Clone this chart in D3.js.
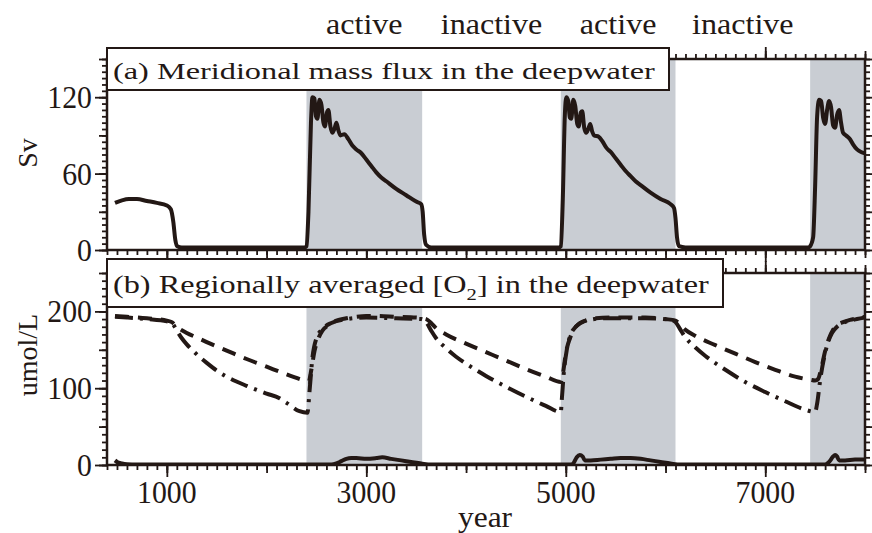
<!DOCTYPE html>
<meta charset="utf-8">
<html>
<head>
<title>Deepwater mass flux and O2</title>
<style>
  body { margin: 0; background: #fff; }
  text { font-family: "Liberation Serif", "Times New Roman", serif; fill: #231815; }
  .frame { fill: none; stroke: #231815; stroke-width: 2.5px; }
  .tick line { stroke: #231815; stroke-width: 1.8px; }
  .shade { fill: #c9cdd3; }
  .series { fill: none; stroke: #231815; stroke-width: 4px; }
  .titlebox { fill: #fff; stroke: #231815; stroke-width: 2px; }
</style>
<script src="https://cdn.jsdelivr.net/npm/d3@7"></script>
</head>
<body>
<div id="chart"></div>
<script>
// phase boundaries (year): active, inactive, active, inactive, active
var phaseBounds = [2400, 3560, 4950, 6100, 7450];
var phaseLabels = ["active", "inactive", "active", "inactive"];

// (a) meridional mass flux in the deepwater, Sv
var fluxYears = [480, 550, 620, 700, 800, 900, 1000, 1040, 1065, 1085, 1105, 1150, 1500, 2000, 2380,
  2400, 2420, 2445, 2460, 2480, 2495, 2510, 2530, 2550, 2570, 2585, 2605, 2620, 2640, 2660, 2680, 2700, 2720, 2740,
  2780, 2820, 2860, 2900, 2950, 3000, 3050, 3100, 3150, 3200, 3300, 3400, 3500, 3550, 3565, 3580, 3600, 3650,
  4000, 4500, 4930,
  4950, 4970, 4990, 5005, 5025, 5040, 5055, 5075, 5095, 5115, 5130, 5150, 5165, 5185, 5205, 5225, 5245, 5265, 5285,
  5330, 5370, 5410, 5450, 5500, 5550, 5600, 5650, 5700, 5750, 5850, 5950, 6050, 6085, 6100, 6115, 6135, 6200,
  6600, 7000, 7430,
  7450, 7480, 7500, 7520, 7540, 7560, 7580, 7600, 7620, 7640, 7660, 7680, 7700, 7720, 7740, 7760, 7780,
  7810, 7850, 7880, 7920, 7960, 8000];
var fluxValues = [37, 39, 40, 40, 38.5, 37, 35, 32, 22, 8, 3, 2, 2, 2, 2,
  3, 30, 100, 120, 119, 105, 103, 118, 114, 100, 97, 108, 110, 97, 92, 95, 100, 94, 90,
  91, 87, 82, 79, 76, 71, 66, 61, 57, 54, 48, 43, 38, 36, 30, 12, 4, 2,
  2, 2, 2,
  3, 40, 105, 120, 117, 104, 103, 118, 113, 99, 97, 108, 109, 96, 92, 95, 99, 93, 90,
  89, 85, 80, 77, 72, 67, 62, 58, 54, 51, 45, 40, 36, 33, 25, 10, 3, 2,
  2, 2, 2,
  3, 10, 50, 105, 118, 117, 104, 99, 110, 117, 112, 98, 96, 106, 110, 100, 92,
  90, 87, 83, 79, 77, 76];

// (b) regionally averaged [O2] in the deepwater, umol/L
var o2DashYears = [480, 600, 800, 1000, 1050, 1100, 1200, 1300, 1400, 1600, 1800, 2000, 2200, 2350, 2420,
  2450, 2480, 2520, 2560, 2620, 2700, 2800, 2900, 3000, 3100, 3300, 3500, 3600, 3650, 3700, 3800,
  4000, 4200, 4400, 4600, 4800, 4950, 4970, 5000, 5050, 5100, 5200, 5300, 5500, 5800, 6000, 6100,
  6150, 6200, 6300, 6500, 6700, 6900, 7100, 7300, 7450, 7500, 7530, 7560, 7600, 7640, 7680, 7720,
  7780, 7850, 7920, 8000];
var o2DashValues = [194, 193, 191, 188, 186, 180, 172, 166, 160, 149, 138, 128, 118, 111, 108,
  125, 148, 165, 175, 182, 188, 191, 193, 194, 194, 193, 192, 190, 185, 178, 170,
  158, 147, 136, 125, 115, 108, 118, 145, 168, 180, 188, 191, 192, 192, 190, 188,
  182, 176, 168, 156, 145, 134, 124, 115, 111, 110, 112, 125, 148, 165, 176, 182,
  186, 189, 191, 193];

var o2DotYears = [480, 600, 800, 1000, 1050, 1100, 1150, 1200, 1300, 1400, 1500, 1600, 1800, 2000, 2130, 2200,
  2330, 2410, 2430, 2460, 2500, 2560, 2650, 2800, 3000, 3300, 3550, 3600, 3650, 3700, 3800, 3900,
  4000, 4200, 4400, 4600, 4800, 4950, 4960, 4980, 5010, 5050, 5100, 5200, 5400, 5800, 6050, 6100,
  6150, 6200, 6300, 6400, 6600, 6800, 7000, 7200, 7400, 7500, 7520, 7550, 7590, 7630, 7670, 7720,
  7780, 7850, 7920, 8000];
var o2DotValues = [193, 192, 190, 187, 185, 175, 165, 157, 144, 133, 123, 115, 103, 93, 87, 81,
  70, 68, 95, 140, 165, 177, 185, 190, 192, 191, 190, 186, 175, 165, 152, 141,
  132, 116, 102, 89, 77, 69, 85, 120, 150, 170, 180, 188, 191, 191, 189, 186,
  176, 166, 153, 142, 124, 108, 95, 83, 72, 69, 80, 110, 140, 160, 172, 180,
  185, 188, 190, 192];

var o2SolidYears = [480, 500, 550, 600, 700, 2650, 2700, 2750, 2800, 2850, 2900, 3000, 3100, 3160, 3250,
  3350, 3450, 3550, 3650, 5050, 5080, 5110, 5140, 5170, 5190, 5250, 5350, 5450, 5550, 5650, 5750,
  5850, 5950, 6050, 6150, 7600, 7640, 7680, 7700, 7720, 7740, 7800, 7900, 8000];
var o2SolidValues = [6, 4, 2, 1, 0.5, 0.5, 2, 5, 8, 9, 9, 8, 9, 10, 8,
  6, 4, 2, 0.5, 0.5, 3, 10, 13, 11, 6, 6, 7, 8, 9, 9, 8,
  6, 4, 2, 0.5, 0.5, 4, 11, 13, 11, 6, 6, 7, 7];

// tick values
var fluxLabelTicks = [0, 60, 120];
var o2LabelTicks = [0, 100, 200];
var yearLabelTicks = [1000, 3000, 5000, 7000];

var W = 872, H = 533;
var ink = "#231815";

var x = d3.scaleLinear().domain([400, 8000]).range([107, 865]);
var ya = d3.scaleLinear().domain([0, 150]).range([250, 59]);
var yb = d3.scaleLinear().domain([0, 250]).range([465, 273]);

var svg = d3.select("#chart").append("svg")
  .attr("width", W)
  .attr("height", H);

function zip(xs, ys) { return xs.map(function (d, i) { return [d, ys[i]]; }); }

// grey shading for the active periods
var actives = [[phaseBounds[0], phaseBounds[1]], [phaseBounds[2], phaseBounds[3]], [phaseBounds[4], 8000]];
[ya, yb].forEach(function (y) {
  svg.selectAll(null)
    .data(actives)
    .enter()
    .append("rect")
    .attr("class", "shade")
    .attr("x", function (d) { return x(d[0]); })
    .attr("width", function (d) { return x(d[1]) - x(d[0]); })
    .attr("y", y.range()[1])
    .attr("height", y.range()[0] - y.range()[1]);
});

// clip paths
var defs = svg.append("defs");
[["clipA", ya], ["clipB", yb]].forEach(function (c) {
  defs.append("clipPath").attr("id", c[0])
    .append("rect")
    .attr("x", x.range()[0]).attr("width", x.range()[1] - x.range()[0])
    .attr("y", c[1].range()[1]).attr("height", c[1].range()[0] - c[1].range()[1]);
});

function lineFor(y) {
  return d3.line()
    .x(function (d) { return x(d[0]); })
    .y(function (d) { return y(d[1]); })
    .curve(d3.curveMonotoneX);
}

svg.append("path")
  .attr("class", "series")
  .attr("clip-path", "url(#clipA)")
  .attr("d", lineFor(ya)(zip(fluxYears, fluxValues)));

svg.append("path")
  .attr("class", "series")
  .attr("clip-path", "url(#clipB)")
  .attr("d", lineFor(yb)(zip(o2SolidYears, o2SolidValues)));

svg.append("path")
  .attr("class", "series")
  .attr("clip-path", "url(#clipB)")
  .style("stroke-dasharray", "14,9")
  .attr("d", lineFor(yb)(zip(o2DashYears, o2DashValues)));

svg.append("path")
  .attr("class", "series")
  .attr("clip-path", "url(#clipB)")
  .style("stroke-dasharray", "18,7,3,7")
  .attr("d", lineFor(yb)(zip(o2DotYears, o2DotValues)));

// axes: minor / medium / major ticks, all outward
function ticks(axisFn, scale, vals, size, tx, ty) {
  var g = svg.append("g")
    .attr("transform", "translate(" + tx + "," + ty + ")")
    .call(axisFn(scale).tickValues(vals).tickSize(size).tickFormat(""));
  g.select(".domain").remove();
  g.selectAll("line").style("stroke", ink);
}

var yearMinor = d3.range(400, 8001, 100);
var yearMid = d3.range(1000, 8001, 1000);

[ya, yb].forEach(function (y) {
  var top = y.range()[1], bot = y.range()[0];
  ticks(d3.axisBottom, x, yearMinor, 5, 0, bot);
  ticks(d3.axisBottom, x, yearMid, 8, 0, bot);
  ticks(d3.axisBottom, x, yearLabelTicks, 12, 0, bot);
  ticks(d3.axisTop, x, yearMinor, 5, 0, top);
  ticks(d3.axisTop, x, yearMid, 8, 0, top);
  ticks(d3.axisTop, x, yearLabelTicks, 12, 0, top);
});

ticks(d3.axisLeft, ya, d3.range(0, 151, 5), 5, x.range()[0], 0);
ticks(d3.axisLeft, ya, d3.range(0, 151, 30), 8, x.range()[0], 0);
ticks(d3.axisLeft, ya, fluxLabelTicks, 12, x.range()[0], 0);
ticks(d3.axisRight, ya, d3.range(0, 151, 5), 5, x.range()[1], 0);
ticks(d3.axisRight, ya, d3.range(0, 151, 30), 8, x.range()[1], 0);

ticks(d3.axisLeft, yb, d3.range(0, 251, 10), 5, x.range()[0], 0);
ticks(d3.axisLeft, yb, d3.range(0, 251, 50), 8, x.range()[0], 0);
ticks(d3.axisLeft, yb, o2LabelTicks, 12, x.range()[0], 0);
ticks(d3.axisRight, yb, d3.range(0, 251, 10), 5, x.range()[1], 0);
ticks(d3.axisRight, yb, d3.range(0, 251, 50), 8, x.range()[1], 0);

// frames
[ya, yb].forEach(function (y) {
  svg.append("rect")
    .attr("class", "frame")
    .attr("x", x.range()[0])
    .attr("y", y.range()[1])
    .attr("width", x.range()[1] - x.range()[0])
    .attr("height", y.range()[0] - y.range()[1]);
});

// text helper: horizontally scaled text
function label(str, px, py, size, sx, anchor, rotate) {
  var t = svg.append("text")
    .attr("transform", "translate(" + px + "," + py + ")" + (rotate ? " rotate(" + rotate + ")" : "") + " scale(" + sx + ",1)")
    .attr("text-anchor", anchor || "start")
    .style("font-size", size + "px")
    .text(str);
  return t;
}

// tick labels
fluxLabelTicks.forEach(function (v) { label(v, 92, ya(v) + 11, 32, 0.93, "end"); });
o2LabelTicks.forEach(function (v) { label(v, 92, yb(v) + 11, 32, 0.93, "end"); });
yearLabelTicks.forEach(function (v) { label(v, x(v), 503, 32, 0.93, "middle"); });

// axis titles
label("year", 485, 527, 30, 1.05, "middle");
label("Sv", 37, 153, 28, 1, "middle", -90);
label("umol/L", 37, 355, 28, 1, "middle", -90);

// phase labels on top
phaseLabels.forEach(function (s, i) {
  label(s, x((phaseBounds[i] + phaseBounds[i + 1]) / 2), 34, 30, 1.07, "middle");
});

// panel titles in boxes
svg.append("rect").attr("class", "titlebox")
  .attr("x", 107).attr("y", 48).attr("width", 562).attr("height", 42);
var ta = label("(a) Meridional mass flux in the deepwater", 113, 79, 24, 1, "start");
var wa = ta.node().getComputedTextLength();
ta.attr("transform", "translate(113,79) scale(" + (542 / wa) + ",1)");

svg.append("rect").attr("class", "titlebox")
  .attr("x", 107).attr("y", 259).attr("width", 616).attr("height", 48);
var tb = svg.append("text")
  .style("font-size", "25px");
tb.append("tspan").text("(b) Regionally averaged [O");
tb.append("tspan").attr("dy", 7).style("font-size", "16px").text("2");
tb.append("tspan").attr("dy", -7).text("] in the deepwater");
var wb = tb.node().getComputedTextLength();
tb.attr("transform", "translate(113,293) scale(" + (596 / wb) + ",1)");
</script>
</body>
</html>
